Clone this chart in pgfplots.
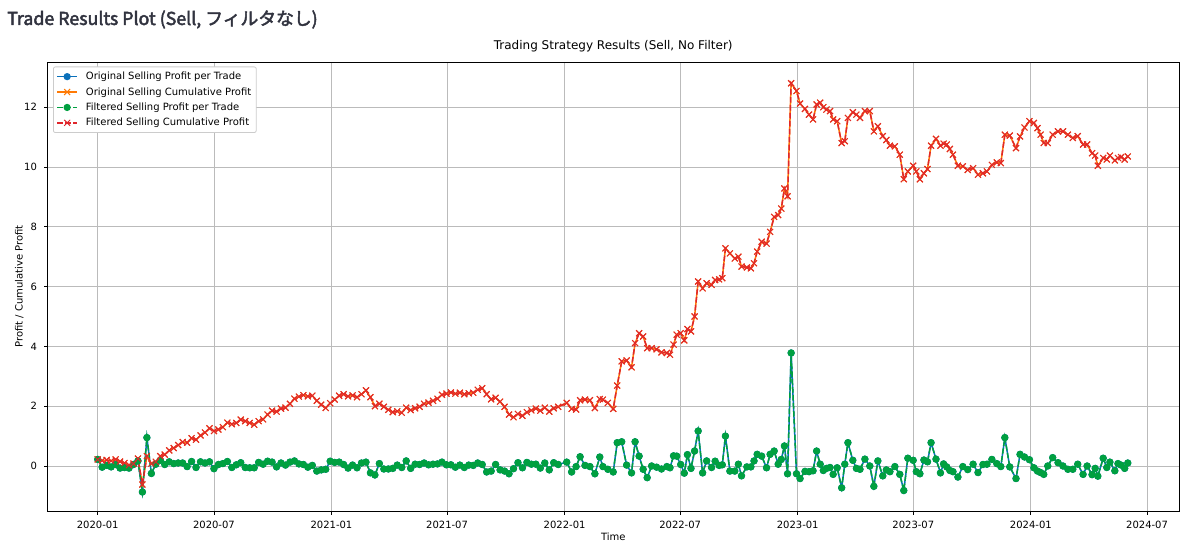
\documentclass[border=0pt]{standalone}
\usepackage{fontspec}
\setmainfont{DejaVu Sans}
\newfontfamily\cjk[FakeBold=2.6]{Noto Sans CJK JP}
\usepackage{pgfplots}
\usepackage{pgfplotstable}
\pgfplotsset{compat=1.18}
\definecolor{tabblue}{HTML}{0A70BA}
\definecolor{taborange}{HTML}{FF7A05}
\definecolor{tabgreen}{HTML}{00A040}
\definecolor{tabred}{HTML}{E0262B}
\definecolor{gridgray}{HTML}{BBBBBB}
\definecolor{legendgray}{HTML}{CCCCCC}
\definecolor{stxt}{HTML}{31333F}

\pgfplotstableread{
x p c
0 0.22 0.22
1 -0.04 0.18
2 0.02 0.20
3 -0.03 0.17
4 0.05 0.22
5 -0.07 0.15
6 -0.05 0.10
7 -0.07 0.03
8 0.05 0.08
9 0.17 0.25
10 -0.87 -0.62
11 0.95 0.33
12 -0.25 0.08
13 0.06 0.14
14 0.19 0.33
15 0.05 0.38
16 0.14 0.52
17 0.08 0.60
18 0.10 0.70
19 0.10 0.80
20 -0.02 0.78
21 0.15 0.93
22 -0.05 0.88
23 0.14 1.02
24 0.10 1.12
25 0.14 1.26
26 -0.09 1.17
27 0.05 1.22
28 0.08 1.30
29 0.15 1.45
30 -0.05 1.40
31 0.04 1.44
32 0.11 1.55
33 -0.05 1.50
34 -0.06 1.44
35 -0.06 1.38
36 0.12 1.50
37 0.06 1.56
38 0.16 1.72
39 0.13 1.85
40 -0.03 1.82
41 0.10 1.92
42 0.03 1.95
43 0.13 2.08
44 0.17 2.25
45 0.07 2.32
46 0.05 2.37
47 -0.04 2.33
48 0.02 2.35
49 -0.17 2.18
50 -0.13 2.05
51 -0.11 1.94
52 0.16 2.10
53 0.12 2.22
54 0.13 2.35
55 0.05 2.40
56 -0.07 2.33
57 0.03 2.36
58 -0.06 2.30
59 0.10 2.40
60 0.13 2.53
61 -0.23 2.30
62 -0.30 2.00
63 0.08 2.08
64 -0.10 1.98
65 -0.10 1.88
66 -0.08 1.80
67 0.03 1.83
68 -0.05 1.78
69 0.17 1.95
70 -0.08 1.87
71 0.06 1.93
72 0.05 1.98
73 0.10 2.08
74 0.04 2.12
75 0.06 2.18
76 0.07 2.25
77 0.13 2.38
78 0.04 2.42
79 0.04 2.46
80 -0.04 2.42
81 0.03 2.45
82 -0.05 2.40
83 0.03 2.43
84 0.02 2.45
85 0.10 2.55
86 0.05 2.60
87 -0.20 2.40
88 -0.17 2.23
89 0.05 2.28
90 -0.13 2.15
91 -0.17 1.98
92 -0.26 1.72
93 -0.09 1.63
94 0.11 1.74
95 -0.06 1.68
96 0.12 1.80
97 0.06 1.86
98 0.06 1.92
99 -0.07 1.85
100 0.10 1.95
101 -0.13 1.82
102 0.11 1.93
103 0.05 1.98
104.9 0.13 2.11
106.0 -0.20 1.91
107.0 -0.02 1.89
107.9 0.31 2.20
109.0 0.02 2.22
110.1 -0.02 2.20
111.2 -0.26 1.94
112.3 0.30 2.24
113.0 -0.02 2.22
114.1 -0.11 2.11
115.3 -0.20 1.91
116.2 0.78 2.69
117.2 0.81 3.50
118.3 0.03 3.53
119.4 -0.23 3.30
120.2 0.81 4.11
121.1 0.33 4.44
122.0 -0.11 4.33
122.9 -0.39 3.94
123.9 0.00 3.94
125.0 -0.04 3.90
126.1 -0.10 3.80
127.3 -0.02 3.78
128.0 -0.06 3.72
128.8 0.34 4.06
129.5 0.33 4.39
130.4 0.05 4.44
131.2 -0.24 4.20
131.9 0.38 4.58
132.7 -0.08 4.50
133.5 0.50 5.00
134.3 1.17 6.17
135.3 -0.23 5.94
136.2 0.17 6.11
137.3 -0.05 6.06
138.1 0.16 6.22
139.0 0.02 6.24
139.7 0.04 6.28
140.4 1.00 7.28
141.4 -0.17 7.11
142.5 -0.17 6.94
143.3 0.06 7.00
144.0 -0.33 6.67
145.2 -0.03 6.64
146.1 -0.03 6.61
146.8 0.17 6.78
147.5 0.39 7.17
148.5 0.33 7.50
149.6 -0.06 7.44
150.4 0.39 7.83
151.3 0.50 8.33
152.2 0.06 8.39
152.9 0.22 8.61
153.6 0.67 9.28
154.3 -0.26 9.02
155.1 3.78 12.80
156.3 -0.26 12.54
157.1 -0.42 12.12
158.2 -0.18 11.94
159.1 -0.19 11.75
160.0 -0.16 11.59
160.8 0.50 12.09
161.6 0.06 12.15
162.3 -0.15 12.00
163.0 -0.08 11.92
163.8 -0.05 11.87
164.5 -0.28 11.59
165.4 -0.06 11.53
166.4 -0.73 10.80
167.1 0.06 10.86
167.8 0.78 11.64
168.9 0.19 11.83
169.7 -0.08 11.75
170.5 -0.11 11.64
171.6 0.23 11.87
172.7 0.00 11.87
173.6 -0.68 11.19
174.5 0.17 11.36
175.6 -0.33 11.03
176.4 -0.13 10.90
177.2 -0.19 10.71
178.3 -0.02 10.69
179.4 -0.28 10.41
180.3 -0.82 9.59
181.2 0.26 9.85
182.4 0.19 10.04
183.1 -0.19 9.85
183.9 -0.26 9.59
184.8 0.20 9.79
185.6 0.14 9.93
186.4 0.78 10.71
187.5 0.23 10.94
188.5 -0.23 10.71
189.2 0.07 10.78
189.9 -0.03 10.75
190.6 -0.15 10.60
191.3 -0.19 10.41
192.4 -0.37 10.04
193.5 -0.02 10.02
194.6 -0.12 9.90
195.8 0.06 9.96
196.9 -0.22 9.74
198.0 0.05 9.79
198.9 0.06 9.85
200.0 0.22 10.07
201.1 0.08 10.15
202.0 -0.02 10.13
202.9 0.95 11.08
204.0 -0.03 11.05
205.4 -0.42 10.63
206.3 0.39 11.02
207.3 0.30 11.32
208.4 0.21 11.53
209.4 -0.06 11.47
210.2 -0.17 11.30
210.9 -0.22 11.08
211.6 -0.28 10.80
212.5 0.00 10.80
213.6 0.28 11.08
214.8 0.11 11.19
215.9 0.00 11.19
217.0 -0.11 11.08
218.1 -0.11 10.97
219.2 0.06 11.03
220.4 -0.28 10.75
221.3 0.00 10.75
222.4 -0.29 10.46
223.1 -0.08 10.38
223.7 -0.34 10.04
224.9 0.26 10.30
225.7 -0.05 10.25
226.4 0.13 10.38
227.5 -0.16 10.22
228.2 0.08 10.30
228.9 0.03 10.33
229.7 -0.08 10.25
230.4 0.10 10.35
}\datatable

\begin{document}
\begin{tikzpicture}
\path[use as bounding box] (0,0) rectangle (1200pt,544pt);
\node[anchor=base west, text=stxt, font=\cjk\fontsize{17.8pt}{21pt}\selectfont, inner sep=0pt] at (7pt,519pt) {Trade Results Plot (Sell, フィルタなし)};
\begin{axis}[
  at={(47.5pt,33pt)}, anchor=south west,
  width=1131.5pt, height=449pt, scale only axis,
  xmin=-11.23, xmax=241.85, ymin=-1.505, ymax=13.51,
  xtick={0,26,52.286,78.143,104.429,130.286,156.571,182.429,208.714,234.714},
  xticklabels={2020-01,2020-07,2021-01,2021-07,2022-01,2022-07,2023-01,2023-07,2024-01,2024-07},
  ytick={0,2,4,6,8,10,12},
  minor tick num=0,
  tick pos=left,
  tick align=outside,
  major tick length=3.5pt,
  tick style={black, line width=0.8pt},
  axis line style={black, line width=0.8pt},
  grid=major,
  major grid style={gridgray, line width=0.8pt},
  /pgf/number format/assume math mode=true,
  x tick label style={font=\fontsize{10pt}{12pt}\selectfont, yshift=-3.5pt},
  y tick label style={font=\fontsize{10pt}{12pt}\selectfont, xshift=-3.5pt},
  title={Trading Strategy Results (Sell, No Filter)},
  title style={font=\fontsize{12pt}{14.4pt}\selectfont, at={(axis description cs:0.5,1.01336)}, anchor=base, yshift=0pt},
  xlabel={Time},
  xlabel style={font=\fontsize{10pt}{12pt}\selectfont, at={(axis description cs:0.5,-0.0646)}, anchor=base},
  ylabel={Profit / Cumulative Profit},
  ylabel style={font=\fontsize{10pt}{12pt}\selectfont, at={(axis description cs:-0.0221,0.5)}, anchor=base},
  legend cell align=left,
  legend style={at={(axis description cs:0,1)}, anchor=north west, xshift=5.5pt, yshift=-4.5pt,
    draw=legendgray, line width=0.8pt, fill=white, rounded corners=2pt,
    font=\fontsize{10pt}{12pt}\selectfont, inner xsep=3pt, inner ysep=3.2pt, row sep=2.3pt, column sep=6pt},
  legend image code/.code={\draw[mark repeat=2,mark phase=2,#1] plot coordinates {(0pt,0pt) (10pt,0pt) (20pt,0pt)};},
]
\addplot[tabblue, line width=1.5pt, mark=*, mark size=3.1pt, mark options={solid, fill=tabblue, draw=tabblue, line width=1pt}] table[x=x,y=p]{\datatable};
\addlegendentry{Original Selling Profit per Trade}
\addplot[taborange, line width=1.5pt, mark=x, mark size=4.2pt, mark options={solid, line width=1pt}] table[x=x,y=c]{\datatable};
\addlegendentry{Original Selling Cumulative Profit}
\addplot[tabgreen, line width=1.5pt, dash pattern=on 5.55pt off 2.4pt, mark=*, mark size=3.1pt, mark options={solid, fill=tabgreen, draw=tabgreen, line width=1pt}] table[x=x,y=p]{\datatable};
\addlegendentry{Filtered Selling Profit per Trade}
\addplot[tabred, line width=1.5pt, dash pattern=on 5.55pt off 2.4pt, mark=x, mark size=4.2pt, mark options={solid, line width=1pt}] table[x=x,y=c]{\datatable};
\addlegendentry{Filtered Selling Cumulative Profit}
\end{axis}
\end{tikzpicture}
\end{document}
